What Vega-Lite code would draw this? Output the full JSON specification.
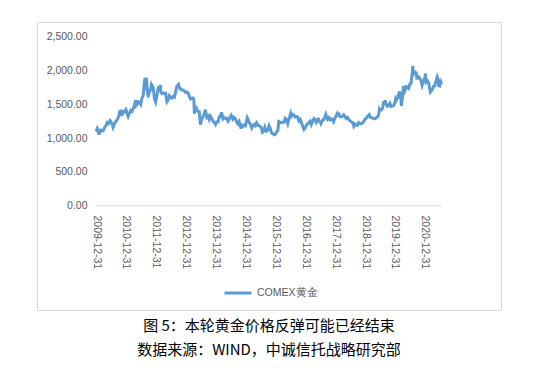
{
"$schema": "https://vega.github.io/schema/vega-lite/v6.json",
"width": 464, "height": 288,
"autosize": {"type": "none"},
"padding": {"left": 37, "top": 22, "right": 39, "bottom": 66},
"background": "white",
"title": {"text": "图 5：本轮黄金价格反弹可能已经结束", "subtitle": "数据来源：WIND，中诚信托战略研究部", "orient": "bottom", "anchor": "middle", "offset": 9, "font": "Noto Sans CJK SC", "fontSize": 15, "fontWeight": "normal", "color": "#000000", "subtitleFont": "Noto Sans CJK SC", "subtitleFontSize": 15, "subtitleColor": "#000000", "subtitlePadding": 9},
"config": {"view": {"stroke": "#d9d9d9", "strokeWidth": 1}, "axis": {"grid": false, "ticks": false, "domain": false, "labelColor": "#595959", "labelFont": "Liberation Sans", "labelFontSize": 10.5}},
"layer": [
{"data": {"values": [{"start": "2009-12-31", "end": "2021-07-23", "value": 0}]},
 "mark": {"type": "rule", "color": "#d9d9d9", "strokeWidth": 1},
 "encoding": {
  "x": {"field": "start", "type": "temporal", "scale": {"type": "utc", "domain": [{"year": 2008, "month": 1, "date": 10, "utc": true}, {"year": 2023, "month": 7, "date": 19, "utc": true}]}, "axis": {"title": null, "offset": -104, "labelPadding": 9, "labelAngle": 90, "format": "%Y-%m-%d", "values": [{"year": 2009, "month": 12, "date": 31, "utc": true}, {"year": 2010, "month": 12, "date": 31, "utc": true}, {"year": 2011, "month": 12, "date": 31, "utc": true}, {"year": 2012, "month": 12, "date": 31, "utc": true}, {"year": 2013, "month": 12, "date": 31, "utc": true}, {"year": 2014, "month": 12, "date": 31, "utc": true}, {"year": 2015, "month": 12, "date": 31, "utc": true}, {"year": 2016, "month": 12, "date": 31, "utc": true}, {"year": 2017, "month": 12, "date": 31, "utc": true}, {"year": 2018, "month": 12, "date": 31, "utc": true}, {"year": 2019, "month": 12, "date": 31, "utc": true}, {"year": 2020, "month": 12, "date": 31, "utc": true}]}},
  "x2": {"field": "end"},
  "y": {"field": "value", "type": "quantitative", "scale": {"domain": [-1543, 2717.5], "nice": false, "zero": false}, "axis": {"title": null, "offset": -55, "labelPadding": 5, "values": [0, 500, 1000, 1500, 2000, 2500], "format": ",.2f"}}
 }},
{"data": {"values": [
{"date":"2009-12-31","price":1096},{"date":"2010-01-15","price":1140},{"date":"2010-01-31","price":1081},{"date":"2010-02-05","price":1052},{"date":"2010-02-15","price":1095},{"date":"2010-02-28","price":1118},{"date":"2010-03-15","price":1105},{"date":"2010-03-31","price":1113},{"date":"2010-04-15","price":1158},{"date":"2010-04-30","price":1180},{"date":"2010-05-15","price":1228},{"date":"2010-05-31","price":1213},{"date":"2010-06-21","price":1260},{"date":"2010-06-30","price":1244},{"date":"2010-07-15","price":1208},{"date":"2010-07-28","price":1158},{"date":"2010-08-15","price":1215},{"date":"2010-08-31","price":1248},{"date":"2010-09-15","price":1270},{"date":"2010-09-30","price":1308},{"date":"2010-10-14","price":1380},{"date":"2010-10-31","price":1357},{"date":"2010-11-09","price":1421},{"date":"2010-11-16","price":1337},{"date":"2010-11-30","price":1386},{"date":"2010-12-15","price":1390},{"date":"2010-12-31","price":1421},
{"date":"2011-01-15","price":1360},{"date":"2011-01-28","price":1318},{"date":"2011-02-15","price":1374},{"date":"2011-02-28","price":1411},{"date":"2011-03-15","price":1396},{"date":"2011-03-31","price":1439},{"date":"2011-04-15","price":1486},{"date":"2011-04-29","price":1563},{"date":"2011-05-05","price":1480},{"date":"2011-05-15","price":1493},{"date":"2011-05-31","price":1536},{"date":"2011-06-15","price":1527},{"date":"2011-06-30","price":1500},{"date":"2011-07-15","price":1594},{"date":"2011-07-31","price":1628},{"date":"2011-08-10","price":1790},{"date":"2011-08-22","price":1891},{"date":"2011-08-25","price":1710},{"date":"2011-08-31","price":1829},{"date":"2011-09-06","price":1895},{"date":"2011-09-15","price":1780},{"date":"2011-09-26","price":1628},{"date":"2011-09-30","price":1624},{"date":"2011-10-15","price":1682},{"date":"2011-10-31","price":1725},{"date":"2011-11-08","price":1795},{"date":"2011-11-15","price":1780},{"date":"2011-11-30","price":1750},{"date":"2011-12-15","price":1575},{"date":"2011-12-29","price":1531},
{"date":"2012-01-15","price":1640},{"date":"2012-01-31","price":1740},{"date":"2012-02-15","price":1730},{"date":"2012-02-28","price":1785},{"date":"2012-02-29","price":1690},{"date":"2012-03-15","price":1659},{"date":"2012-03-31","price":1669},{"date":"2012-04-15","price":1660},{"date":"2012-04-30","price":1664},{"date":"2012-05-16","price":1537},{"date":"2012-05-31","price":1564},{"date":"2012-06-15","price":1625},{"date":"2012-06-30","price":1598},{"date":"2012-07-15","price":1590},{"date":"2012-07-31","price":1615},{"date":"2012-08-15","price":1605},{"date":"2012-08-31","price":1690},{"date":"2012-09-15","price":1770},{"date":"2012-10-04","price":1795},{"date":"2012-10-15","price":1750},{"date":"2012-10-31","price":1720},{"date":"2012-11-15","price":1713},{"date":"2012-11-30","price":1713},{"date":"2012-12-15","price":1697},{"date":"2012-12-31","price":1675},
{"date":"2013-01-15","price":1683},{"date":"2013-01-31","price":1662},{"date":"2013-02-15","price":1610},{"date":"2013-02-28","price":1579},{"date":"2013-03-15","price":1592},{"date":"2013-03-31","price":1595},{"date":"2013-04-10","price":1558},{"date":"2013-04-15","price":1361},{"date":"2013-04-30","price":1476},{"date":"2013-05-15","price":1426},{"date":"2013-05-31","price":1392},{"date":"2013-06-15","price":1389},{"date":"2013-06-28","price":1200},{"date":"2013-07-15","price":1284},{"date":"2013-07-31","price":1313},{"date":"2013-08-15","price":1365},{"date":"2013-08-28","price":1420},{"date":"2013-09-15","price":1308},{"date":"2013-09-30","price":1327},{"date":"2013-10-15","price":1273},{"date":"2013-10-31","price":1323},{"date":"2013-11-15","price":1288},{"date":"2013-11-30","price":1250},{"date":"2013-12-15","price":1236},{"date":"2013-12-31","price":1202},
{"date":"2014-01-15","price":1242},{"date":"2014-01-31","price":1240},{"date":"2014-02-15","price":1318},{"date":"2014-02-28","price":1321},{"date":"2014-03-14","price":1380},{"date":"2014-03-31","price":1283},{"date":"2014-04-15","price":1302},{"date":"2014-04-30","price":1291},{"date":"2014-05-15","price":1294},{"date":"2014-05-31","price":1250},{"date":"2014-06-15","price":1275},{"date":"2014-06-30","price":1322},{"date":"2014-07-10","price":1340},{"date":"2014-07-31","price":1282},{"date":"2014-08-15","price":1305},{"date":"2014-08-31","price":1286},{"date":"2014-09-15","price":1234},{"date":"2014-09-30","price":1210},{"date":"2014-10-15","price":1243},{"date":"2014-10-31","price":1172},{"date":"2014-11-07","price":1140},{"date":"2014-11-15","price":1190},{"date":"2014-11-30","price":1175},{"date":"2014-12-15","price":1195},{"date":"2014-12-31","price":1184},
{"date":"2015-01-15","price":1262},{"date":"2015-01-22","price":1300},{"date":"2015-01-31","price":1278},{"date":"2015-02-15","price":1228},{"date":"2015-02-28","price":1213},{"date":"2015-03-17","price":1150},{"date":"2015-03-31","price":1183},{"date":"2015-04-15","price":1201},{"date":"2015-04-30","price":1183},{"date":"2015-05-15","price":1225},{"date":"2015-05-31","price":1190},{"date":"2015-06-15","price":1185},{"date":"2015-06-30","price":1172},{"date":"2015-07-15","price":1148},{"date":"2015-07-24","price":1085},{"date":"2015-08-07","price":1095},{"date":"2015-08-24","price":1160},{"date":"2015-08-31","price":1133},{"date":"2015-09-15","price":1103},{"date":"2015-09-30","price":1115},{"date":"2015-10-15","price":1184},{"date":"2015-10-31","price":1142},{"date":"2015-11-15","price":1081},{"date":"2015-11-30","price":1064},{"date":"2015-12-17","price":1050},{"date":"2015-12-31","price":1060},
{"date":"2016-01-15","price":1090},{"date":"2016-01-31","price":1116},{"date":"2016-02-11","price":1247},{"date":"2016-02-29","price":1234},{"date":"2016-03-15","price":1232},{"date":"2016-03-31","price":1233},{"date":"2016-04-15","price":1234},{"date":"2016-04-30","price":1290},{"date":"2016-05-15","price":1273},{"date":"2016-05-31","price":1213},{"date":"2016-06-15","price":1290},{"date":"2016-06-24","price":1320},{"date":"2016-07-06","price":1367},{"date":"2016-07-15","price":1327},{"date":"2016-07-31","price":1350},{"date":"2016-08-15","price":1340},{"date":"2016-08-31","price":1309},{"date":"2016-09-15","price":1317},{"date":"2016-09-30","price":1313},{"date":"2016-10-15","price":1252},{"date":"2016-10-31","price":1274},{"date":"2016-11-15","price":1227},{"date":"2016-11-30","price":1173},{"date":"2016-12-15","price":1128},{"date":"2016-12-31","price":1152},
{"date":"2017-01-15","price":1197},{"date":"2017-01-31","price":1211},{"date":"2017-02-15","price":1233},{"date":"2017-02-28","price":1249},{"date":"2017-03-15","price":1201},{"date":"2017-03-31","price":1249},{"date":"2017-04-15","price":1287},{"date":"2017-04-30","price":1268},{"date":"2017-05-15","price":1232},{"date":"2017-05-31","price":1268},{"date":"2017-06-06","price":1298},{"date":"2017-06-15","price":1255},{"date":"2017-06-30","price":1242},{"date":"2017-07-10","price":1212},{"date":"2017-07-31","price":1269},{"date":"2017-08-15","price":1273},{"date":"2017-08-31","price":1322},{"date":"2017-09-08","price":1351},{"date":"2017-09-15","price":1325},{"date":"2017-09-30","price":1280},{"date":"2017-10-15","price":1303},{"date":"2017-10-31","price":1270},{"date":"2017-11-15","price":1282},{"date":"2017-11-30","price":1275},{"date":"2017-12-12","price":1243},{"date":"2017-12-31","price":1303},
{"date":"2018-01-15","price":1340},{"date":"2018-01-25","price":1362},{"date":"2018-01-31","price":1343},{"date":"2018-02-15","price":1355},{"date":"2018-02-28","price":1318},{"date":"2018-03-15","price":1317},{"date":"2018-03-31","price":1325},{"date":"2018-04-15","price":1346},{"date":"2018-04-30","price":1316},{"date":"2018-05-15","price":1290},{"date":"2018-05-31","price":1305},{"date":"2018-06-15","price":1278},{"date":"2018-06-30","price":1254},{"date":"2018-07-15","price":1241},{"date":"2018-07-31","price":1232},{"date":"2018-08-16","price":1174},{"date":"2018-08-31","price":1206},{"date":"2018-09-15","price":1194},{"date":"2018-09-28","price":1190},{"date":"2018-10-15","price":1230},{"date":"2018-10-31","price":1215},{"date":"2018-11-15","price":1214},{"date":"2018-11-30","price":1223},{"date":"2018-12-15","price":1246},{"date":"2018-12-31","price":1283},
{"date":"2019-01-15","price":1291},{"date":"2019-01-31","price":1325},{"date":"2019-02-20","price":1346},{"date":"2019-02-28","price":1316},{"date":"2019-03-15","price":1302},{"date":"2019-03-31","price":1298},{"date":"2019-04-15","price":1291},{"date":"2019-04-30","price":1285},{"date":"2019-05-15","price":1298},{"date":"2019-05-31","price":1311},{"date":"2019-06-15","price":1345},{"date":"2019-06-25","price":1425},{"date":"2019-06-30","price":1413},{"date":"2019-07-15","price":1414},{"date":"2019-07-31","price":1437},{"date":"2019-08-15","price":1527},{"date":"2019-08-31","price":1529},{"date":"2019-09-04","price":1560},{"date":"2019-09-15","price":1499},{"date":"2019-09-30","price":1472},{"date":"2019-10-15","price":1483},{"date":"2019-10-31","price":1514},{"date":"2019-11-15","price":1468},{"date":"2019-11-30","price":1473},{"date":"2019-12-15","price":1481},{"date":"2019-12-31","price":1523},
{"date":"2020-01-08","price":1574},{"date":"2020-01-15","price":1555},{"date":"2020-01-31","price":1589},{"date":"2020-02-24","price":1690},{"date":"2020-02-29","price":1585},{"date":"2020-03-09","price":1680},{"date":"2020-03-19","price":1478},{"date":"2020-03-31","price":1597},{"date":"2020-04-14","price":1770},{"date":"2020-04-30","price":1702},{"date":"2020-05-18","price":1760},{"date":"2020-05-31","price":1751},{"date":"2020-06-15","price":1735},{"date":"2020-06-30","price":1800},{"date":"2020-07-15","price":1813},{"date":"2020-07-31","price":1986},{"date":"2020-08-06","price":2069},{"date":"2020-08-11","price":1946},{"date":"2020-08-31","price":1978},{"date":"2020-09-15","price":1966},{"date":"2020-09-24","price":1868},{"date":"2020-09-30","price":1895},{"date":"2020-10-15","price":1908},{"date":"2020-10-31","price":1879},{"date":"2020-11-09","price":1860},{"date":"2020-11-27","price":1780},{"date":"2020-12-15","price":1855},{"date":"2020-12-31","price":1895},
{"date":"2021-01-06","price":1955},{"date":"2021-01-15","price":1830},{"date":"2021-01-31","price":1850},{"date":"2021-02-15","price":1820},{"date":"2021-02-28","price":1730},{"date":"2021-03-08","price":1680},{"date":"2021-03-31","price":1715},{"date":"2021-04-15","price":1765},{"date":"2021-04-30","price":1770},{"date":"2021-05-15","price":1838},{"date":"2021-05-31","price":1905},{"date":"2021-06-15","price":1860},{"date":"2021-06-17","price":1775},{"date":"2021-06-30","price":1770},{"date":"2021-07-15","price":1828},{"date":"2021-07-23","price":1800}
]},
 "mark": {"type": "line", "strokeWidth": 3},
 "encoding": {
  "x": {"field": "date", "type": "temporal"},
  "y": {"field": "price", "type": "quantitative"},
  "color": {"datum": "COMEX黄金", "type": "nominal", "scale": {"range": ["#5b9bd5"]}, "legend": {"orient": "none", "legendX": 186, "legendY": 256, "title": null, "symbolType": "stroke", "symbolSize": 729, "symbolStrokeWidth": 3, "labelFont": "Liberation Sans", "labelFontSize": 10.5, "labelColor": "#595959", "labelOffset": 4}}
 }}
]
}
